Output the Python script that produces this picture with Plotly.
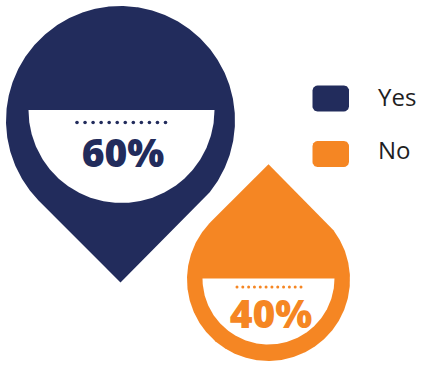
import numpy as np
import plotly.graph_objects as go

# Survey answers
categories = ["Yes", "No"]
shares = [60, 40]
colors = ["#222C5C", "#F58623"]
label_color = "#1F1F1F"

# Pin geometry in pixel units (y grows downward)
pins = [
    dict(cx=120.5, cy=120.5, r=114.5, down=True,
         wx=121.5, wy=110.0, wr=93.0,
         dot_y=122.5, dot_x0=77.0, dot_x1=165.5, dot_size=3.6,
         text_x=123.0, text_y=157.0),
    dict(cx=268.5, cy=279.5, r=81.5, down=False,
         wx=268.5, wy=278.5, wr=66.0,
         dot_y=287.0, dot_x0=237.0, dot_x1=301.0, dot_size=3.0,
         text_x=271.0, text_y=318.0),
]
legend_boxes = [
    dict(x0=312.5, y0=85.5, x1=349.0, y1=111.5, text_y=99.5),
    dict(x0=312.5, y0=141.0, x1=349.0, y1=167.0, text_y=153.0),
]


def pin_outline(cx, cy, r, down):
    """Circle with a pointed tip; both tip edges are tangent at 45 degrees."""
    s = 1 if down else -1
    tip_x, tip_y = cx, cy + s * r * np.sqrt(2)
    a = np.radians(np.linspace(45, 315, 480))
    xs = cx + r * np.sin(a)
    ys = cy + s * r * np.cos(a)
    return [tip_x, *xs, tip_x], [tip_y, *ys, tip_y]


def lower_half_disc(cx, cy, r):
    a = np.radians(np.linspace(0, 180, 300))
    xs = cx + r * np.cos(a)
    ys = cy + r * np.sin(a)
    return [*xs, xs[0]], [*ys, ys[0]]


def rounded_rect(x0, y0, x1, y1, rad):
    xs, ys = [], []
    corners = [(x1 - rad, y0 + rad, -90, 0), (x1 - rad, y1 - rad, 0, 90),
               (x0 + rad, y1 - rad, 90, 180), (x0 + rad, y0 + rad, 180, 270)]
    for ccx, ccy, a0, a1 in corners:
        a = np.radians(np.linspace(a0, a1, 20))
        xs.extend(ccx + rad * np.cos(a))
        ys.extend(ccy + rad * np.sin(a))
    return [*xs, xs[0]], [*ys, ys[0]]


fig = go.Figure()

for cat, val, col, p in zip(categories, shares, colors, pins):
    px, py = pin_outline(p["cx"], p["cy"], p["r"], p["down"])
    fig.add_trace(go.Scatter(x=px, y=py, mode="lines", fill="toself",
                             fillcolor=col, line=dict(width=0, color=col),
                             hoverinfo="skip", name=cat))
    hx, hy = lower_half_disc(p["wx"], p["wy"], p["wr"])
    fig.add_trace(go.Scatter(x=hx, y=hy, mode="lines", fill="toself",
                             fillcolor="white", line=dict(width=0, color="white"),
                             hoverinfo="skip"))
    dx = np.linspace(p["dot_x0"], p["dot_x1"], 12)
    fig.add_trace(go.Scatter(x=dx, y=[p["dot_y"]] * len(dx), mode="markers",
                             marker=dict(size=p["dot_size"], color=col),
                             hoverinfo="skip"))
    fig.add_trace(go.Scatter(x=[p["text_x"]], y=[p["text_y"]], mode="text",
                             text=[f"{val}%"], textposition="middle center",
                             textfont=dict(family="Open Sans", size=39,
                                           color=col, weight=800),
                             hoverinfo="skip"))

# Legend
for cat, col, b in zip(categories, colors, legend_boxes):
    rx, ry = rounded_rect(b["x0"], b["y0"], b["x1"], b["y1"], 5)
    fig.add_trace(go.Scatter(x=rx, y=ry, mode="lines", fill="toself",
                             fillcolor=col, line=dict(width=0, color=col),
                             hoverinfo="skip"))
    fig.add_trace(go.Scatter(x=[378], y=[b["text_y"]], mode="text",
                             text=[cat], textposition="middle right",
                             textfont=dict(family="Open Sans", size=24,
                                           color=label_color),
                             hoverinfo="skip"))

fig.update_layout(
    width=424, height=365,
    margin=dict(l=0, r=0, t=0, b=0),
    showlegend=False,
    paper_bgcolor="white", plot_bgcolor="white",
    xaxis=dict(range=[0, 424], visible=False, fixedrange=True),
    yaxis=dict(range=[365, 0], visible=False, fixedrange=True),
)

fig.write_html("out.html")
